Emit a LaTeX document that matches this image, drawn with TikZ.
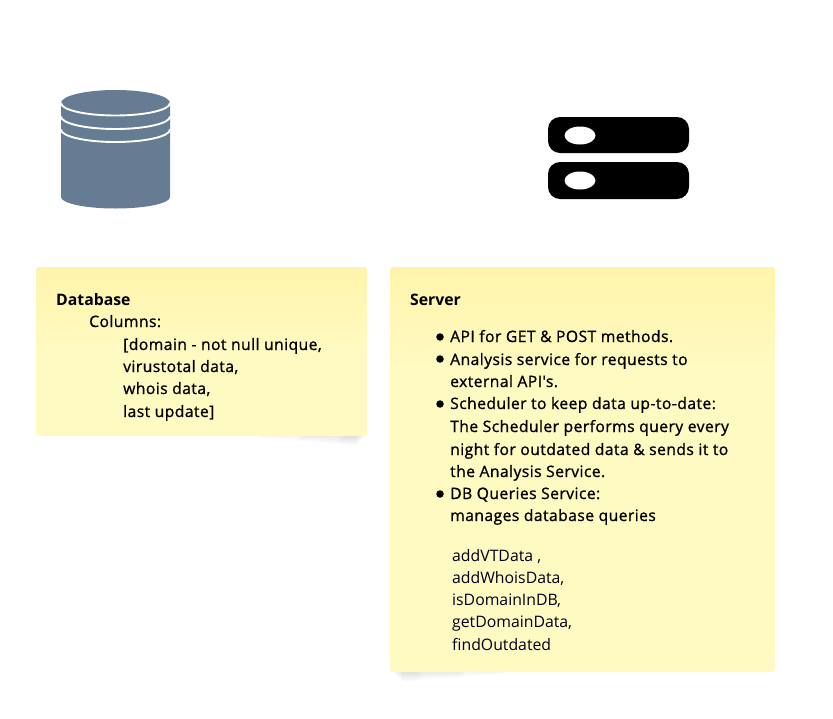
\documentclass[tikz,border=0pt]{standalone}
\usepackage{fontspec}
\setmainfont{Open Sans}
\newfontfamily\semifont[FakeBold=1.0,LetterSpace=2.7]{Open Sans}
\usetikzlibrary{fadings}
\definecolor{dbblue}{HTML}{667C92}
\definecolor{notetop}{HTML}{FFF4AB}
\definecolor{notebot}{HTML}{FFFAC2}
\pgfdeclareverticalshading{noteleft}{100bp}{color(0bp)=(notebot); color(50bp)=(notebot); color(75bp)=(notetop); color(100bp)=(notetop)}
\pgfdeclareverticalshading{noteright}{100bp}{color(0bp)=(notebot); color(62bp)=(notebot); color(75bp)=(notetop); color(100bp)=(notetop)}
\tikzfading[name=shadowright,left color=transparent!100,right color=transparent!0]
\tikzfading[name=shadowleft,left color=transparent!0,right color=transparent!100]
\tikzset{
  x=1pt,y=-1pt,
  txt/.style={anchor=base west,inner sep=0pt,text=black,font=\fontsize{15.7pt}{19pt}\selectfont\semifont},
  head/.style={txt,font=\fontsize{15.8pt}{19pt}\selectfont\bfseries},
  plain/.style={txt,text=black!90!blue,font=\fontsize{15.8pt}{19pt}\selectfont},
  bullet/.style={circle,fill=black,inner sep=0pt,minimum size=7.5pt},
  ringline/.style={draw=white,line width=1.9pt},
}
\begin{document}
\begin{tikzpicture}
\useasboundingbox (0,0) rectangle (833,718);
\fill[white] (0,0) rectangle (833,718);
% database icon
\fill[dbblue] (61,103) arc[start angle=180,end angle=360,x radius=54.5,y radius=13] -- (170,197) arc[start angle=0,end angle=180,x radius=54.5,y radius=11.5] -- cycle;
\draw[ringline] (61,103) arc[start angle=180,end angle=0,x radius=54.5,y radius=12.5];
\draw[ringline] (61,116.5) arc[start angle=180,end angle=0,x radius=54.5,y radius=12.5];
\draw[ringline] (61,129.5) arc[start angle=180,end angle=0,x radius=54.5,y radius=12.5];
% server icon
\fill[black,rounded corners=12pt] (548,117) rectangle (689,153);
\fill[black,rounded corners=12pt] (548,162) rectangle (689,199);
\fill[white] (580,135.5) ellipse[x radius=15.5,y radius=9];
\fill[white] (580,180.5) ellipse[x radius=15.5,y radius=9];
% shadows
\foreach \d in {1,...,11}{
  \fill[black,opacity=0.012,path fading=shadowright] (240,434) -- (366-0.9*\d,434) -- (366-0.9*\d,436+\d*0.9) -- (240,436) -- cycle;
  \fill[black,opacity=0.012,path fading=shadowleft] (392+1.0*\d,670) -- (525,670) -- (525,672) -- (392+1.0*\d,672+\d*0.9) -- cycle;
}
% notes
\path[rounded corners=3pt,shading=noteleft] (36,267) rectangle (367,436);
\path[rounded corners=3pt,shading=noteright] (390,267) rectangle (775,672);
% left note text
\node[head] (t1) at (56,305) {Database};
\node[txt] (t2) at (89,327) {Columns:};
\node[txt] (t3) at (123,350) {[domain - not null unique,};
\node[txt] (t4) at (123,372) {virustotal data,};
\node[txt] (t5) at (123,394) {whois data,};
\node[txt] (t6) at (123,417) {last update]};
% right note text
\node[head] (s1) at (410,305) {Server};
\node[bullet] (b1) at (440,337) {};
\node[txt] (s2) at (450,342) {API for GET \& POST methods.};
\node[bullet] (b2) at (440,359) {};
\node[txt] (s3) at (450,365) {Analysis service for requests to};
\node[txt] (s4) at (450,387) {external API's.};
\node[bullet] (b3) at (440,404) {};
\node[txt] (s5) at (450,409) {Scheduler to keep data up-to-date:};
\node[txt] (s6) at (450,432) {The Scheduler performs query every};
\node[txt] (s7) at (450,455) {night for outdated data \& sends it to};
\node[txt] (s8) at (450,477) {the Analysis Service.};
\node[bullet] (b4) at (440,494) {};
\node[txt] (s9) at (450,499) {DB Queries Service:};
\node[txt] (s10) at (450,521) {manages database queries};
\node[plain] (m1) at (452,561) {addVTData ,};
\node[plain] (m2) at (452,583) {addWhoisData,};
\node[plain] (m3) at (452,605) {isDomainInDB,};
\node[plain] (m4) at (452,627) {getDomainData,};
\node[plain] (m5) at (452,650) {findOutdated};
\end{tikzpicture}
\end{document}
